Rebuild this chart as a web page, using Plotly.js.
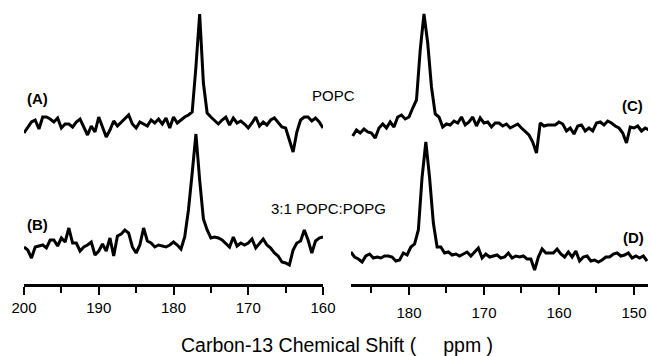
<!DOCTYPE html>
<html><head><meta charset="utf-8">
<script src="https://cdn.plot.ly/plotly-3.0.1.min.js"></script>
<style>html,body{margin:0;padding:0;background:#fff}#chart{width:650px;height:356px}</style>
</head><body><div id="chart"></div>
<script>
// ppm sampling of each spectrum (start, step)
const stepPPM = 0.5;
const startA = 200, startB = 200, startC = 187.5, startD = 187.75;
// intensities (arbitrary units, baseline = 0)
const specA = [-10,-4,1,3,-6,6,6,4,1,5,
  -5,-1,-1,-4,1,4,-4,-12,-3,-9,
  6,-4,-14,-7,2,-3,1,4,8,-1,
  -5,1,-1,-3,3,0,4,-1,5,-5,
  6,0,3,6,8,11,56,109,40,10,
  6,2,-1,3,6,-2,5,0,2,-1,
  -5,0,6,-3,1,-2,3,5,0,-4,
  -5,-18,-29,-9,3,6,6,2,5,1,
  -5];
const specB = [0,-3,-11,0,1,2,-1,7,7,1,
  9,5,19,4,4,-4,0,2,5,-8,
  -4,3,-4,9,-9,11,13,17,14,0,
  -6,2,19,6,4,0,2,1,0,2,
  5,2,-2,10,37,74,113,67,28,17,
  9,10,9,7,3,0,10,1,4,2,
  4,8,-1,4,8,2,-1,-6,-9,-15,
  -16,-18,-3,4,6,17,7,-6,6,9,
  10];
const specC = [-6,0,-3,1,-2,-3,-8,2,6,2,
  8,3,13,15,11,13,22,30,80,116,
  87,43,16,13,3,6,5,9,7,13,
  5,8,13,4,12,7,8,3,7,7,
  4,6,2,4,6,2,-2,-5,-12,-23,
  7,4,5,5,5,8,6,-1,2,-4,
  4,5,-1,2,-1,7,8,5,9,7,
  4,2,-3,-13,3,2,4,-1,2,0];
const specD = [8,3,1,-2,4,6,2,3,2,4,
  4,3,-1,0,7,5,13,16,30,83,
  118,82,37,13,13,7,8,5,6,4,
  6,8,4,8,12,2,6,3,4,5,
  2,3,7,2,4,3,4,1,1,-10,
  3,11,7,7,7,11,6,3,8,3,
  9,-1,3,4,-1,0,-2,0,3,3,
  6,7,4,5,7,2,4,2,4,-1];
const panelLabels = ["(A)","(B)","(C)","(D)"];
const sampleLabels = ["POPC","3:1 POPC:POPG"];
const xTitle = "Carbon-13 Chemical Shift (\u00a0\u00a0\u00a0\u00a0 ppm )";
const leftRange = [200,160], rightRange = [187.73,148.13];

const W = 650, H = 356;
function ppm(start, n){ const a=[]; for(let i=0;i<n;i++) a.push(start - i*stepPPM); return a; }
const yr = [-35,120];
function dom(basePx){ const top = basePx - yr[1], bot = basePx - yr[0]; return [(H-bot)/H, (H-top)/H]; }
const line = {color:'#000', width:3};
const traces = [
  {x:ppm(startA,specA.length), y:specA, xaxis:'x', yaxis:'y', mode:'lines', line},
  {x:ppm(startB,specB.length), y:specB, xaxis:'x', yaxis:'y2', mode:'lines', line},
  {x:ppm(startC,specC.length), y:specC, xaxis:'x2', yaxis:'y3', mode:'lines', line},
  {x:ppm(startD,specD.length), y:specD, xaxis:'x2', yaxis:'y4', mode:'lines', line}
];
const font = {family:'"Liberation Sans", Arial, sans-serif', color:'#000'};
const axPos = (H-285)/H;
function xax(range, d0, d1, standoff){ return {range, domain:[d0/W, d1/W], anchor:'free', position:axPos,
  showline:true, linecolor:'#000', linewidth:2.8, showgrid:false, zeroline:false,
  ticks:'outside', ticklen:8, tickwidth:2, tickcolor:'#000', tickmode:'linear', tick0:0, dtick:10,
  ticklabelstandoff: standoff,
  tickfont:{...font, size:15},
  minor:{dtick:5, tick0:0, ticks:'outside', ticklen:6, tickwidth:2, tickcolor:'#000', showgrid:false}}; }
function yax(basePx){ return {range:yr, domain:dom(basePx), visible:false, anchor:'free', position:0, fixedrange:true}; }
const ann = (text, xp, yp, size, bold) => ({text: bold?('<b>'+text+'</b>'):text, x:xp/W, y:(H-yp)/H, xref:'paper', yref:'paper',
  showarrow:false, xanchor:'center', yanchor:'middle', font:{...font, size}});
const layout = {
  width:W, height:H, margin:{l:0,r:0,t:0,b:0}, showlegend:false,
  paper_bgcolor:'#fff', plot_bgcolor:'rgba(0,0,0,0)',
  xaxis: xax(leftRange, 24, 323, 0),
  xaxis2: xax(rightRange, 351, 648, 5),
  yaxis: yax(123), yaxis2: yax(247), yaxis3: yax(130), yaxis4: yax(260),
  annotations:[
    ann(panelLabels[0], 37.5, 99, 15, true),
    ann(panelLabels[1], 37.5, 224, 15, true),
    ann(panelLabels[2], 632, 106, 15, true),
    ann(panelLabels[3], 633, 237, 15, true),
    ann(sampleLabels[0], 333, 95, 15, false),
    ann(sampleLabels[1], 328, 209, 15, false),
    ann(xTitle, 337, 345, 19.5, false)
  ]
};
Plotly.newPlot('chart', traces, layout, {staticPlot:true, displayModeBar:false});
</script></body></html>
